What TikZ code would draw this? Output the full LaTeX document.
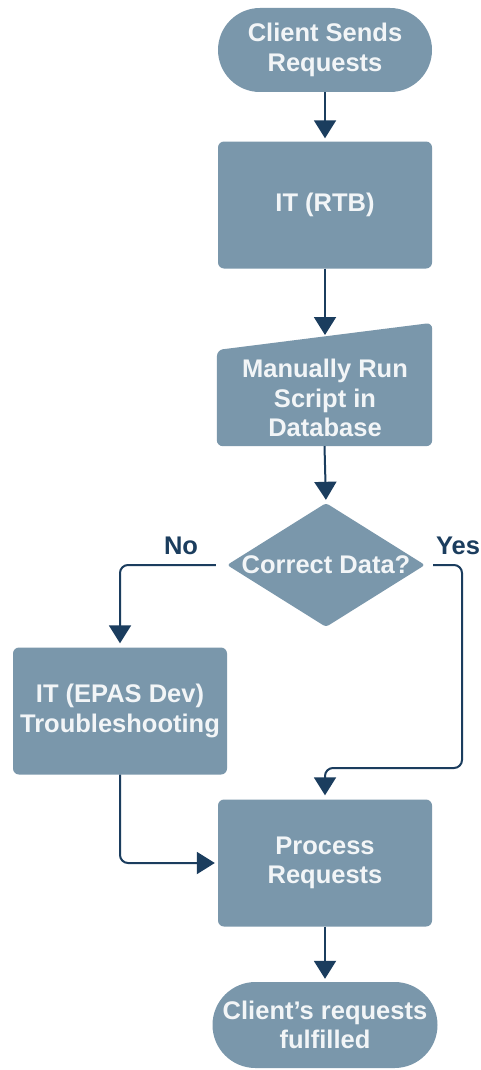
\documentclass[tikz,border=0pt]{standalone}
\usepackage{fontspec}
\setmainfont{Liberation Sans}
\usetikzlibrary{arrows.meta,shapes.geometric}
\definecolor{boxfill}{HTML}{7A97AB}
\definecolor{navy}{HTML}{1B3D5E}
\definecolor{txt}{HTML}{F2F5F7}
\begin{document}
\begin{tikzpicture}[x=1pt,y=-1pt,
  txtst/.style={text=txt, font=\fontsize{25.5}{29.5}\selectfont\bfseries, align=center, inner sep=0pt},
  base/.style={txtst, fill=boxfill},
  procbox/.style={base, rectangle, rounded corners=6pt, minimum width=214pt, minimum height=127pt},
  term/.style={base, rectangle, rounded corners=42pt, minimum width=214pt, minimum height=84pt},
  flow/.style={draw=navy, line width=2pt, -{Triangle[width=22pt,length=18pt]}, rounded corners=8pt},
  lbl/.style={text=navy, font=\fontsize{25.5}{29.5}\selectfont\bfseries, inner sep=0pt}]
\useasboundingbox (0,0) rectangle (480,1070);
\fill[white] (0,0) rectangle (480,1070);

% nodes
\node[term] (t1) at (325,50) {Client Sends\\Requests};
\node[procbox] (rtb) at (325,205) {IT (RTB)};
\node[rectangle, minimum width=215pt, minimum height=123pt, inner sep=0pt] (man) at (324.5,384.5) {};
\fill[boxfill, rounded corners=6pt] (man.south west) -- (217,350) -- (man.north east) -- (man.south east) -- cycle;
\node[txtst] (mantext) at (325,398) {Manually Run\\Script in\\Database};
\coordinate (manin) at (325,335);
\node[diamond, fill=boxfill, minimum width=198pt, minimum height=124pt, inner sep=0pt, rounded corners=3pt] (dec) at (326,565) {};
\node[txtst] (dectext) at (326,565) {Correct Data?};
\node[procbox] (epas) at (120,711) {IT (EPAS Dev)\\Troubleshooting};
\node[procbox] (proc) at (325,863) {Process\\Requests};
\node[term, minimum width=225pt, minimum height=86pt, rounded corners=43pt] (t2) at (325,1025) {Client’s requests\\fulfilled};

\node[lbl] (no) at (181,546) {No};
\node[lbl] (yes) at (458,546) {Yes};

% connectors
\draw[flow, shorten >=3pt] (t1.south) -- (rtb.north);
\draw[flow] (rtb.south) -- (manin);
\draw[flow, shorten >=3pt] (man.south) -- (dec.north);
\draw[flow, shorten <=11pt, shorten >=4pt] (dec.west) -| (epas.north);
\draw[flow, shorten <=8pt, shorten >=4pt] (dec.east) -- (462,565) -- (462,768) -- (325,768) -- (proc.north);
\draw[flow, shorten >=3pt] (epas.south) |- (proc.west);
\draw[flow, shorten >=3pt] (proc.south) -- (t2.north);
\end{tikzpicture}
\end{document}
